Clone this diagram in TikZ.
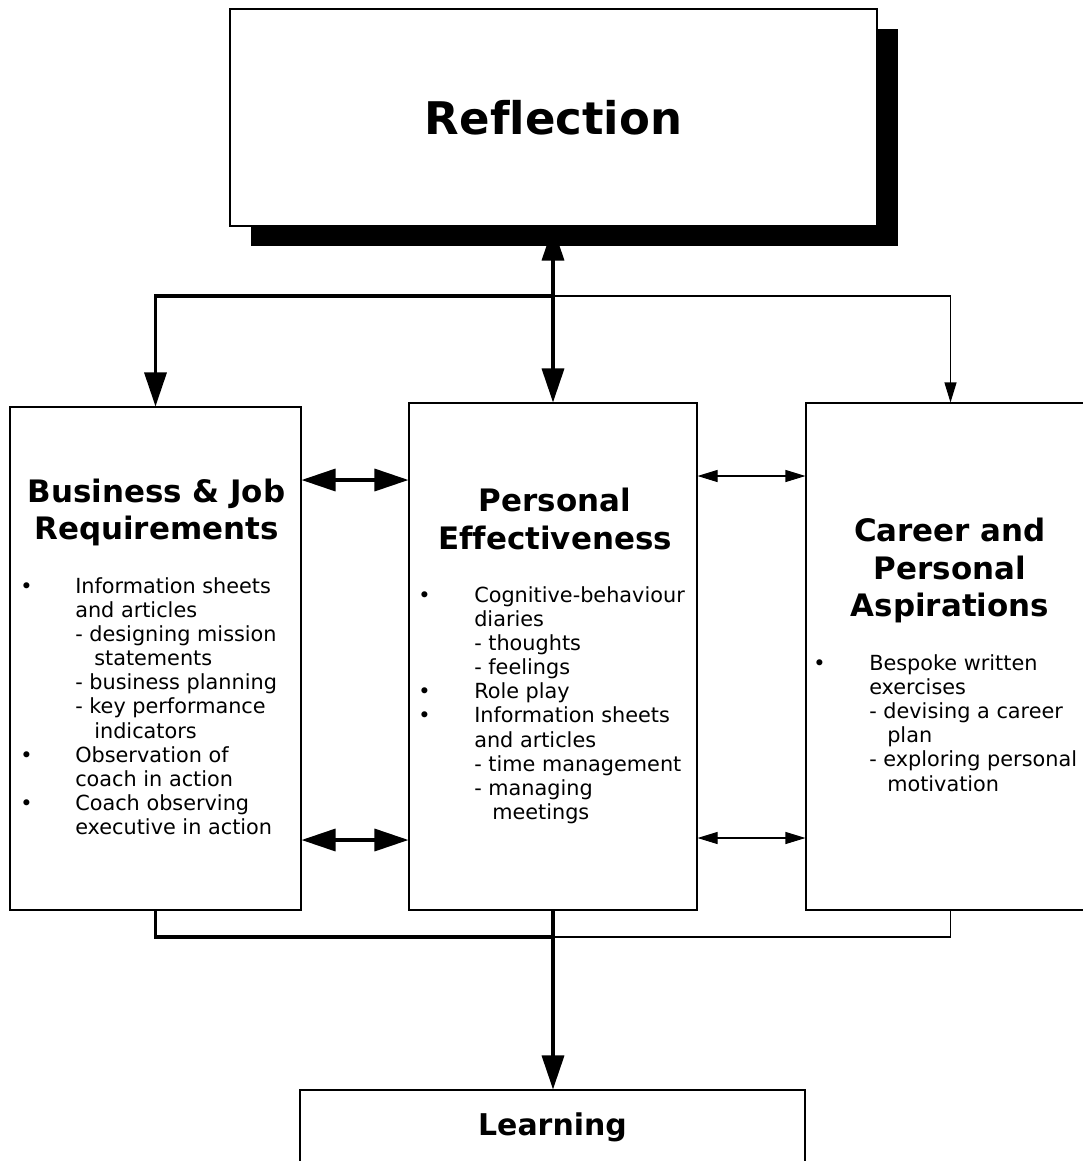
\documentclass[tikz,border=0pt]{standalone}
\usepackage{fontspec}
\setmainfont[Ligatures=NoCommon]{DejaVu Sans}
\usetikzlibrary{arrows.meta,shadows}

\begin{document}
\begin{tikzpicture}[
		box/.style={draw, rectangle, line width=0.75pt, inner sep=0pt},
		heading/.style={anchor=north, align=center, inner sep=0pt, font=\fontsize{22}{26.5}\selectfont\bfseries},
		items/.style={anchor=north west, inner sep=0pt, font=\fontsize{14.8}{17.2}\selectfont},
		heavy/.style={line width=2.4pt},
		light/.style={line width=0.75pt},
		bigtip/.tip={Triangle[length=8.5mm,width=5.5mm]},
		smalltip/.tip={Triangle[length=5mm,width=3mm]}
		]
		\useasboundingbox (0,0) rectangle (27.075,-29.025);
		
		% boxes
		\node	(refl) at (13.8375,-2.9375) [box, fill=white, minimum width=16.175cm, minimum height=5.425cm, drop shadow={shadow xshift=5.25mm, shadow yshift=-5mm, fill=black, opacity=1}, font=\fontsize{32}{38}\selectfont\bfseries] {Reflection};
		\node	(biz) at (3.8875,-16.4625) [box, minimum width=7.275cm, minimum height=12.575cm] {};
		\node	(pe) at (13.825,-16.4125) [box, minimum width=7.2cm, minimum height=12.675cm] {};
		\node	(car) at (23.7625,-16.4125) [box, minimum width=7.225cm, minimum height=12.675cm] {};
		\node	(learn) at (13.8125,-28.175) [box, minimum width=12.625cm, minimum height=1.85cm, font=\fontsize{21.3}{26}\selectfont\bfseries] {Learning};
		
		% headings
		\node	(biztitle) at (3.9125,-11.96) [heading] {Business \& Job\\Requirements};
		\node	(petitle) at (13.875,-12.2) [heading] {Personal\\Effectiveness};
		\node	(cartitle) at (23.75,-12.95) [heading] {Career and\\Personal\\Aspirations};
		
		% lists
		\node	(bizlist) at (0.5,-14.395) [items] {\begin{tabular}{@{}p{13.75mm}@{}l@{}}
			\textbullet & Information sheets\\
			& and articles\\
			& - designing mission\\
			& \hspace{4.75mm}statements\\
			& - business planning\\
			& - key performance\\
			& \hspace{4.75mm}indicators\\
			\textbullet & Observation of\\
			& coach in action\\
			\textbullet & Coach observing\\
			& executive in action
		\end{tabular}};
		\node	(pelist) at (10.45,-14.62) [items] {\begin{tabular}{@{}p{14mm}@{}l@{}}
			\textbullet & Cognitive-behaviour\\
			& diaries\\
			& - thoughts\\
			& - feelings\\
			\textbullet & Role play\\
			\textbullet & Information sheets\\
			& and articles\\
			& - time management\\
			& - managing\\
			& \hspace{4.5mm}meetings
		\end{tabular}};
		\node	(carlist) at (20.325,-16.325) [items] {\begin{tabular}{@{}p{14mm}@{}l@{}}
			\textbullet & Bespoke written\\
			& exercises\\
			& - devising a career\\
			& \hspace{4.5mm}plan\\
			& - exploring personal\\
			& \hspace{4.5mm}motivation
		\end{tabular}};
		
		% connectors
		\coordinate (up) at (13.8375,-7.4);
		\coordinate (down) at (13.825,-23.425);
		\coordinate (rowa) at (0,-12.0);
		\coordinate (rowb) at (0,-11.9);
		\coordinate (rowc) at (0,-21.0);
		\coordinate (rowd) at (0,-20.95);
		
		\draw[heavy, {bigtip}-{bigtip}] (pe.north) -- (pe.north |- refl.south);
		\draw[heavy, -{bigtip}] (up) -| (biz.north);
		\draw[light, -{smalltip}] (up) -| (car.north);
		\draw[heavy, {bigtip}-{bigtip}] (biz.east |- rowa) -- (pe.west |- rowa);
		\draw[light, {smalltip}-{smalltip}] (pe.east |- rowb) -- (car.west |- rowb);
		\draw[heavy, {bigtip}-{bigtip}] (biz.east |- rowc) -- (pe.west |- rowc);
		\draw[light, {smalltip}-{smalltip}] (pe.east |- rowd) -- (car.west |- rowd);
		\draw[heavy] (biz.south) |- (down);
		\draw[light] (car.south) |- (down);
		\draw[heavy, -{bigtip}] (pe.south) -- (pe.south |- learn.north);
\end{tikzpicture}
\end{document}
